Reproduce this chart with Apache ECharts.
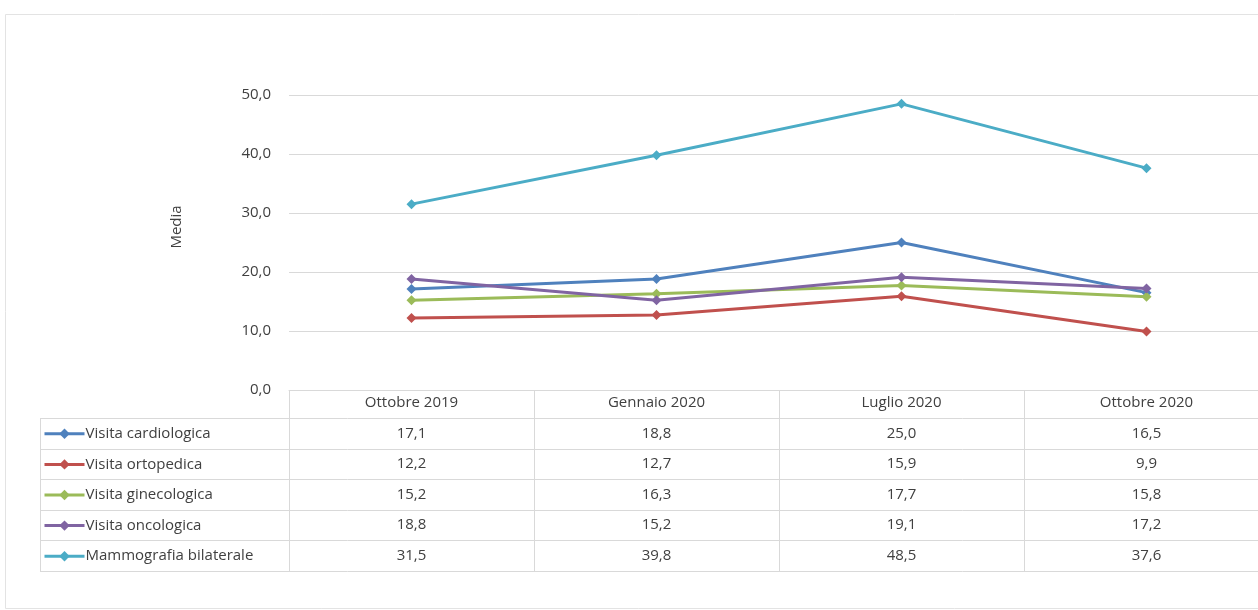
<!DOCTYPE html>
<html><head><meta charset="utf-8">
<script src="https://cdn.jsdelivr.net/npm/echarts@6/dist/echarts.min.js"></script>
<style>html,body{margin:0;padding:0;overflow:hidden;background:#fff;width:1258px;height:610px}#c{width:1270px;height:610px}</style>
</head><body><div id="c"></div>
<script>
const categories = ['Ottobre 2019', 'Gennaio 2020', 'Luglio 2020', 'Ottobre 2020'];
const seriesNames = ['Visita cardiologica', 'Visita ortopedica', 'Visita ginecologica', 'Visita oncologica', 'Mammografia bilaterale'];
const cardiologica = [17.1, 18.8, 25.0, 16.5];
const ortopedica = [12.2, 12.7, 15.9, 9.9];
const ginecologica = [15.2, 16.3, 17.7, 15.8];
const oncologica = [18.8, 15.2, 19.1, 17.2];
const mammografia = [31.5, 39.8, 48.5, 37.6];
const yTicks = [0, 10, 20, 30, 40, 50];
const colors = ['#4F81BD', '#C0504D', '#9BBB59', '#8064A2', '#4BACC6'];
const allValues = [cardiologica, ortopedica, ginecologica, oncologica, mammografia];

const fmt = v => v.toFixed(1).replace('.', ',');
const FONT = 'Open Sans';
const FS = 15;
const TXT = '#404040';
const LINE = '#d9d9d9';
const axisY = 390, rowH = 30.6, tableTop = 418, tableLeft = 40;

const chart = echarts.init(document.getElementById('c'), null, {renderer: 'canvas'});
const option = {
  animation: false,
  backgroundColor: '#fff',
  grid: {left: 289, right: 1, top: 95, bottom: 610 - axisY},
  xAxis: {
    type: 'category', data: categories, boundaryGap: true,
    axisLine: {show: true, lineStyle: {color: LINE, width: 1}},
    axisTick: {show: true, interval: 0, length: 571 - axisY, lineStyle: {color: LINE}},
    axisLabel: {color: TXT, fontFamily: FONT, fontSize: FS, margin: 5, interval: 0}
  },
  yAxis: {
    type: 'value', min: yTicks[0], max: yTicks[yTicks.length - 1], interval: 10,
    axisLine: {show: false}, axisTick: {show: false},
    axisLabel: {color: TXT, fontFamily: FONT, fontSize: FS, margin: 18, formatter: v => fmt(v)},
    splitLine: {lineStyle: {color: LINE, width: 1}}
  },
  legend: seriesNames.map((n, i) => ({
    data: [n], left: 43, top: tableTop + rowH * i + rowH / 2 - 7, itemWidth: 40, itemHeight: 13, itemGap: 2,
    lineStyle: {width: 3},
    textStyle: {color: TXT, fontFamily: FONT, fontSize: FS, padding: [0, 0, 0, -4]}, padding: 0, selectedMode: false
  })),
  series: seriesNames.map((n, i) => ({
    name: n, type: 'line', data: allValues[i], color: colors[i],
    symbol: 'diamond', symbolSize: 10, lineStyle: {width: 3}, itemStyle: {color: colors[i]}
  }))
};
chart.setOption(option);

const graphics = [];
// outer frame
graphics.push({type: 'rect', shape: {x: 5.5, y: 14.5, width: 1300, height: 594}, style: {fill: null, stroke: '#e3e3e3', lineWidth: 1}, z: 0});
// y axis title
graphics.push({type: 'text', x: 177, y: 227, rotation: Math.PI / 2,
  style: {text: 'Media', fill: TXT, font: FS + 'px "' + FONT + '"', align: 'center', verticalAlign: 'middle'}});
// table horizontal lines
for (let r = 0; r <= seriesNames.length; r++) {
  const y = Math.round(tableTop + rowH * r) + 0.5;
  graphics.push({type: 'line', shape: {x1: tableLeft, y1: y, x2: 1270, y2: y}, style: {stroke: LINE, lineWidth: 1}});
}
graphics.push({type: 'line', shape: {x1: tableLeft + 0.5, y1: tableTop, x2: tableLeft + 0.5, y2: Math.round(tableTop + rowH * 5) + 0.5}, style: {stroke: LINE, lineWidth: 1}});
// table values
allValues.forEach((vals, r) => {
  vals.forEach((v, c) => {
    const x = chart.convertToPixel({xAxisIndex: 0}, categories[c]);
    graphics.push({type: 'text', x: x, y: tableTop + rowH * r + rowH / 2,
      style: {text: fmt(v), fill: TXT, font: FS + 'px "' + FONT + '"', align: 'center', verticalAlign: 'middle'}});
  });
});
chart.setOption({graphic: graphics});
</script></body></html>
